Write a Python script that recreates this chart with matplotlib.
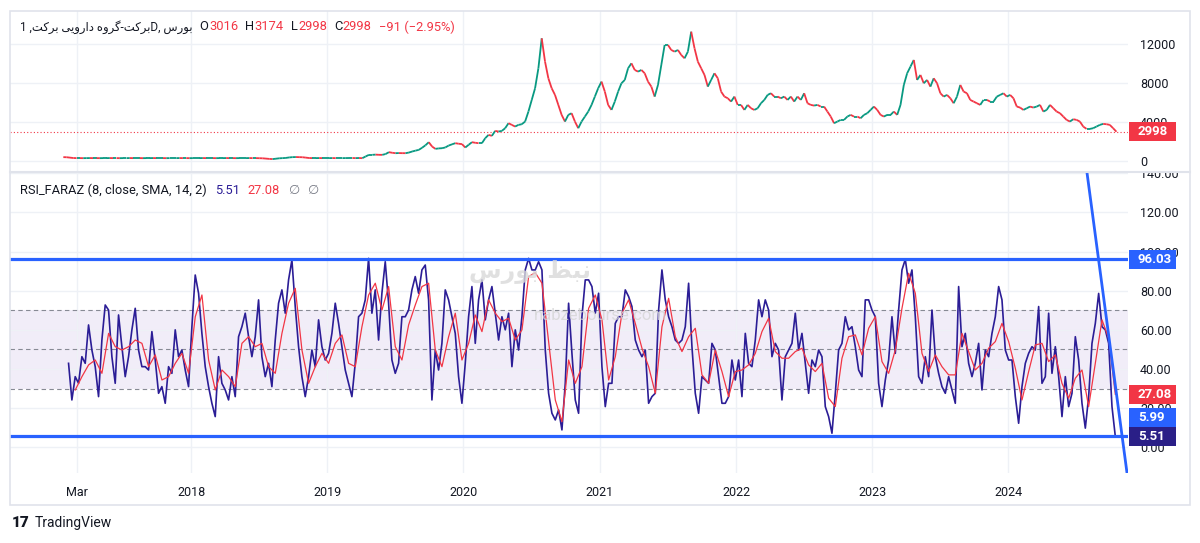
import matplotlib
matplotlib.use('Agg')
import matplotlib.pyplot as plt
import matplotlib.dates as mdates
from matplotlib.collections import LineCollection
from matplotlib.patches import Rectangle
from matplotlib.lines import Line2D
from matplotlib.transforms import IdentityTransform, Bbox, TransformedBbox
import numpy as np
import pandas as pd

plt.rcParams['font.family'] = ['Roboto', 'DejaVu Sans']

## Data
# daily closes (sampled), from late Jan 2017 to mid Oct 2024
price_close = [
    380, 370, 330, 290, 280, 280, 275, 280, 285, 280,
    280, 275, 280, 280, 285, 280, 280, 275, 280, 280,
    285, 280, 280, 280, 275, 280, 280, 285, 280, 280,
    280, 275, 280, 280, 280, 285, 280, 280, 275, 280,
    280, 280, 285, 280, 280, 280, 275, 280, 280, 285,
    280, 280, 275, 280, 280, 280, 285, 280, 280, 270,
    260, 230, 200, 180, 220, 260, 280, 300, 350, 380,
    390, 380, 370, 330, 290, 280, 280, 285, 280, 280,
    280, 285, 280, 280, 280, 285, 290, 290, 280, 290,
    274, 450, 617, 617, 640, 620, 617, 700, 891, 830,
    788, 800, 790, 788, 850, 960, 1050, 1131, 1350, 1600,
    1920, 1474, 1234, 1280, 1300, 1380, 1577, 1700, 1817, 1760,
    1720, 1371, 1650, 1920, 1860, 1817, 1817, 2331, 2674, 2570,
    3085, 3016, 3085, 3359, 3874, 3702, 3531, 3702, 3771, 4045,
    5073, 6273, 7473, 9530, 12615, 10215, 8501, 7473, 6787, 5759,
    4731, 4045, 4731, 4902, 4045, 3359, 4045, 4559, 5073, 5759,
    6616, 7473, 8159, 7130, 5759, 5244, 6102, 7130, 7987, 8330,
    9530, 10044, 9359, 9187, 9359, 9016, 8159, 7644, 6616, 7816,
    9873, 11930, 11930, 11415, 11244, 11415, 10901, 10558, 11244, 13300,
    11587, 10215, 9530, 8844, 7644, 8330, 9016, 8501, 7130, 6616,
    6445, 6102, 6616, 5759,
    5759, 5244, 5759, 5416, 5244, 5416, 5930, 6273, 6787, 6959,
    6616, 6616, 6445, 6616, 6273, 6616, 6102, 6616, 6273, 6959,
    5930, 5759, 5690, 5759, 5588, 5588, 5073, 4559, 3874, 4045,
    4216, 4216, 4559, 4731, 4559, 4559, 4388, 4731, 4902, 5244,
    5588, 5244, 4731, 4559, 4731, 4731, 5073, 4731, 5759, 7816,
    9016, 9701, 10387, 8330, 8844, 7987, 8330, 7644, 8501, 7987,
    6959, 6616, 6787, 6445, 5930, 6616, 7816, 7130, 6959, 6273,
    6102, 5930, 5759, 6273, 6273, 6102, 6102, 6616, 6787, 6959,
    6616, 6787, 6445, 5588, 5485, 5244, 5416, 5588, 5485, 5588,
    5759, 5073, 5244, 5759, 5416, 5073, 4902, 4559, 4216, 4045,
    4285, 4216, 4045, 3531, 3291, 3291, 3359, 3531, 3702, 3805,
    3771, 3702, 3359, 2998,
]
price_start, price_end = '2017-01-23', '2024-10-17'

# RSI(8)
rsi_values = [
    42.9, 24.2, 36.1, 32.7, 46.3, 42.9, 62.5, 49.7, 41.2, 25.9,
    54.8, 72.7, 70.1, 46.3, 32.7, 67.6, 51.4, 36.1, 46.3, 60.0,
    71.0, 49.7, 41.2, 41.2, 39.5, 59.1, 44.6, 27.6, 31.0, 22.5,
    41.2, 37.8, 60.0, 46.3, 49.7, 39.5, 31.0, 61.6, 88.0, 78.7,
    58.2, 41.2, 31.0, 22.5, 15.7, 46.3, 32.7, 29.3, 24.2, 36.1,
    25.9, 56.5, 61.6, 68.5, 56.5, 46.3, 56.5, 75.3, 46.3, 36.1,
    42.9, 31.0, 54.8, 73.6, 80.4, 68.5, 85.5, 95.7, 71.9, 51.4,
    36.1, 25.9, 36.1, 49.7, 41.2, 65.1, 51.4, 44.6, 48.0, 58.2,
    73.6,
    63.3, 51.4, 39.5, 32.7, 25.9, 42.9, 66.7, 68.5, 75.3, 96.5,
    68.5, 80.4, 54.8, 78.7, 94.8, 73.6, 44.6, 37.8, 42.9, 66.7,
    66.7, 70.1, 80.4, 87.2, 78.7, 90.6, 93.1, 75.3, 24.2, 49.7,
    39.5, 53.1, 80.4, 75.3, 66.7, 58.2, 36.1, 22.5, 42.9, 66.7,
    82.1, 53.1, 75.3, 85.5, 65.1, 75.3, 82.1, 68.5, 54.8, 66.7,
    60.0, 68.5, 41.2, 60.0, 49.7, 66.7, 90.6, 96.5, 90.6, 90.6,
    94.8, 90.6, 49.7, 27.6, 17.4, 14.0, 19.1, 8.9, 32.7, 73.6,
    48.0, 24.2, 17.4, 66.7, 85.5, 85.5, 82.1, 68.5, 78.7,
    41.2, 20.8, 32.7, 32.7, 63.3, 66.7, 66.7, 80.4, 77.0, 71.9,
    54.8, 49.7, 46.3, 49.7, 22.5, 25.9, 27.6, 70.1, 90.6, 75.3,
    66.7, 61.6, 54.8, 53.1, 54.8, 61.6, 83.8, 51.4, 27.6, 17.4,
    36.1, 34.4, 32.7, 53.1, 49.7, 36.1, 22.5, 22.5, 25.9, 44.6,
    34.4, 44.6, 25.9, 58.2, 42.9, 41.2, 54.8, 75.3, 66.7, 75.3,
    70.1, 46.3, 53.1, 49.7, 24.2, 46.3, 49.7, 53.1, 68.5, 49.7,
    58.2, 42.9, 27.6, 44.6, 41.2, 49.7, 46.3, 20.8, 15.7, 7.2,
    27.6, 49.7, 53.1, 66.7, 60.0, 61.6, 51.4, 39.5, 36.1, 75.3,
    75.3,
    70.1, 66.7, 32.7, 20.8, 34.4, 44.6, 66.7, 48.0, 70.1, 90.6,
    96.0, 83.8, 90.6, 66.7, 36.1, 32.7, 46.3, 36.1, 70.1, 46.3,
    37.8, 31.0, 27.6, 36.1, 29.3, 22.5, 82.1, 51.4, 58.2, 42.9,
    36.1, 42.9, 53.1, 29.3, 49.7, 46.3, 58.2, 66.7, 82.1, 75.3,
    49.7, 44.6, 44.6, 25.9, 12.3, 31.0, 42.9, 48.0, 51.4, 49.7,
    71.9, 32.7, 36.1, 68.5, 37.8, 51.4, 36.1, 15.7, 36.1, 20.8,
    27.6, 56.5, 44.6, 22.5, 9.8, 25.9, 53.1, 63.3, 78.6, 61.6,
    60.0, 53.1, 20.8, 5.51,
]
rsi_start, rsi_end = '2017-02-06', '2024-10-14'

# SMA(14) of the RSI
sma_values = [
    29.3, 36.1, 42.1, 44.6, 37.8, 58.2, 51.4, 49.7, 51.4, 54.8,
    53.1, 41.2, 47.2, 34.4, 36.1, 42.9, 48.0, 37.8, 66.7, 77.8,
    44.6, 29.3, 39.5, 36.1, 31.0, 53.1, 56.5, 51.4, 53.1, 41.2,
    37.8, 58.2, 73.6, 81.2, 49.7, 32.7, 41.2, 48.0, 42.9, 53.1,
    57.4, 42.9, 41.2, 61.6, 77.8, 83.8, 70.1, 82.1, 51.4, 44.6,
    62.5, 72.7, 82.1, 83.8, 49.7, 41.2, 56.5, 68.5, 44.6, 53.1,
    67.6, 59.1, 75.3, 68.5, 64.2, 65.9, 54.8, 60.0, 87.2, 89.2,
    83.8, 54.0, 24.2, 13.1, 44.6, 32.7, 41.2, 71.0, 77.8,
    65.1, 34.4, 46.3, 68.5, 75.3, 63.3, 50.6, 41.2, 27.6, 61.6,
    76.1, 56.5, 48.9, 56.5, 60.8, 37.0, 32.7, 49.7, 38.7, 25.9,
    38.7, 39.5, 42.1, 48.0, 59.1, 65.9, 48.9, 45.5, 45.5, 48.9,
    50.6, 42.1, 38.7, 42.9, 25.1, 20.8, 45.5, 56.5, 57.4, 47.2,
    60.8,
    66.7, 43.8, 37.8, 49.7, 71.0, 88.9, 78.7, 48.0, 38.7, 47.2,
    41.2, 37.0, 37.0, 58.2, 48.9, 39.5, 42.9, 50.6, 54.0, 63.3,
    54.0, 40.4, 24.2, 38.7, 52.3, 53.1, 43.8, 47.2, 32.7, 25.1,
    35.3, 39.5, 20.8, 42.9, 65.1, 55.7, 27.08,
]
sma_start, sma_end = '2017-02-24', '2024-10-14'

# drawn levels and trend line
hline_levels = [96.03, 5.99]
trend_dates = ['2024-08-30', '2024-11-01']
trend_values = [96.03, 5.99]

band_levels = [30, 50, 70]
rsi_ticks = [0, 20, 40, 60, 80, 100, 120, 140]
price_ticks = [0, 4000, 8000, 12000]
x_tick_dates = ['2017-03-01', '2018-01-01', '2019-01-01', '2020-01-01',
                '2021-01-01', '2022-01-01', '2023-01-01', '2024-01-01']
x_tick_labels = ['Mar', '2018', '2019', '2020', '2021', '2022', '2023', '2024']

ohlc_names = ['O', 'H', 'L', 'C']
ohlc_values = ['3016', '3174', '2998', '2998']
change_text = '\u221291 (\u22122.95%)'

# Persian title in visual order (presentation forms, since matplotlib does no shaping)
w_barkat = '\uFE96\uFB90\uFEAE\uFE91'
w_daruyi = '\uFBFD\uFBFE\uFEED\uFEAD\uFE8D\uFEA9'
w_gorooh = '\uFEE9\uFEED\uFEAE\uFB94'
w_bourse = '\uFEB1\uFEAD\uFEEE\uFE91'
w_nabz = '\uFEC6\uFE92\uFEE7'
title_visual = '1 ,' + w_barkat + ' ' + w_daruyi + ' ' + w_gorooh + '-' + w_barkat + 'D, ' + w_bourse

## Colours
UP = '#089981'
DOWN = '#f23645'
RSI_C = '#2b1d96'
LINE_BLUE = '#2962ff'
GRID = '#eef1f6'
TXT = '#131722'
BORDER = '#e0e3eb'

W, H = 1200, 543
fig = plt.figure(figsize=(W / 100, H / 100), dpi=100)
fig.patch.set_facecolor('white')


def fx(x):
    return x / W


def fy(y):
    return 1 - y / H


ax_price = fig.add_axes([fx(10), fy(172), fx(1118), 161 / H])
ax_rsi = fig.add_axes([fx(10), fy(473), fx(1118), 301 / H], sharex=ax_price)

rsi_dates = pd.date_range(rsi_start, rsi_end, periods=len(rsi_values))
sma_dates = pd.date_range(sma_start, sma_end, periods=len(sma_values))
price_dates = pd.date_range(price_start, price_end, periods=len(price_close))

## RSI pane
ax_rsi.axhspan(band_levels[0], band_levels[-1], color='#7e57c2', alpha=0.1, lw=0, zorder=0)
for lvl in band_levels:
    ax_rsi.axhline(lvl, color='#878a94', lw=0.8, dashes=(4, 3), zorder=1)
ax_rsi.plot(rsi_dates, rsi_values, color=RSI_C, lw=1.2, zorder=3)
ax_rsi.plot(sma_dates, sma_values, color=DOWN, lw=0.9, zorder=4)
for lvl in hline_levels:
    ax_rsi.axhline(lvl, color=LINE_BLUE, lw=2.3, zorder=5)
t0 = mdates.date2num(pd.Timestamp(trend_dates[0]))
t1 = mdates.date2num(pd.Timestamp(trend_dates[1]))
ax_rsi.axline((t0, trend_values[0]), (t1, trend_values[1]), color=LINE_BLUE, lw=2.0, zorder=5)

ax_rsi.set_ylim(-13.1, 140.6)
ax_rsi.set_yticks(rsi_ticks)
ax_rsi.set_yticklabels(['%.2f' % v for v in rsi_ticks])

## Price pane: each bar from previous close to close
xs = mdates.date2num(price_dates)
segs = [[(xs[i - 1], price_close[i - 1]), (xs[i], price_close[i])] for i in range(1, len(xs))]
cols = [UP if price_close[i] >= price_close[i - 1] else DOWN for i in range(1, len(xs))]
ax_price.add_collection(LineCollection(segs, colors=cols, linewidths=1.3, zorder=3))
ax_price.axhline(price_close[-1], color=DOWN, lw=0.8, ls=(0, (1, 2)), zorder=2)
ax_price.set_ylim(-1150, 15430)
ax_price.set_yticks(price_ticks)
ax_price.set_yticklabels([str(v) for v in price_ticks])

ax_price.set_xlim(pd.Timestamp('2016-09-02'), pd.Timestamp('2024-11-17'))
ax_rsi.set_xticks([pd.Timestamp(d) for d in x_tick_dates])
ax_rsi.set_xticklabels(x_tick_labels)

for ax in (ax_price, ax_rsi):
    for s in ax.spines.values():
        s.set_visible(False)
    ax.yaxis.tick_right()
    ax.tick_params(axis='y', length=0, pad=8.6, labelsize=9, labelcolor=TXT)
    ax.tick_params(axis='x', length=0, labelsize=9, labelcolor=TXT, pad=9)
    ax.grid(True, color=GRID, lw=1, zorder=0)
    ax.set_axisbelow(True)
ax_price.tick_params(axis='x', labelbottom=False)

# cut tick labels at the pane edges like the platform does
clip_rsi = TransformedBbox(Bbox([[0, H - 500], [W, H - 172]]), IdentityTransform())
for t in ax_rsi.yaxis.get_major_ticks():
    t.label2.set_clip_box(clip_rsi)
    t.label2.set_clip_on(True)

## Frame and pane separator
fig.add_artist(Rectangle((fx(10), fy(505)), fx(1180), (505 - 11) / H, transform=fig.transFigure,
                         fill=False, ec=BORDER, lw=1.2))
fig.add_artist(Line2D([fx(10), fx(1190)], [fy(172), fy(172)], transform=fig.transFigure,
                      color=BORDER, lw=1.5))


## Value tags on the scale
def add_tag(ax, value, text, color, shift=0):
    ypix = ax.transData.transform((0, value))[1] + shift
    fig.add_artist(Rectangle((1129, ypix - 9.5), 47, 19, transform=IdentityTransform(),
                             fc=color, ec='none', zorder=20))
    fig.text(1138, ypix, text, transform=IdentityTransform(), color='white', fontsize=9.5,
             weight='bold', va='center', ha='left', zorder=21)


add_tag(ax_price, price_close[-1], '2998', DOWN)
add_tag(ax_rsi, hline_levels[0], '96.03', LINE_BLUE)
add_tag(ax_rsi, sma_values[-1], '27.08', DOWN)
add_tag(ax_rsi, rsi_values[-1], '5.99', LINE_BLUE, shift=19)
add_tag(ax_rsi, rsi_values[-1], '5.51', '#2a1f87')


## Legends: pieces placed one after another
renderer = fig.canvas.get_renderer()


def legend_row(x, y, parts, fs=9.3):
    ypix = H - y
    for s, color, gap, fam, size in parts:
        x += gap
        kw = {'family': fam} if fam else {}
        t = fig.text(x, ypix, s, transform=IdentityTransform(), color=color,
                     fontsize=size or fs, va='center', ha='left', **kw)
        x = t.get_window_extent(renderer).x1


price_parts = [(title_visual, TXT, 0, None, 8.4)]
for name, val in zip(ohlc_names, ohlc_values):
    price_parts.append((name, TXT, 7, None, None))
    price_parts.append((val, DOWN, 0.5, None, None))
price_parts.append((change_text, DOWN, 7, None, None))
legend_row(20, 27, price_parts)

rsi_parts = [('RSI_FARAZ (8, close, SMA, 14, 2)', TXT, 0, None, None),
             ('5.51', RSI_C, 8, None, None),
             ('27.08', DOWN, 8, None, None),
             ('\u2205', '#787b86', 8, ['DejaVu Sans'], None),
             ('\u2205', '#787b86', 8, ['DejaVu Sans'], None)]
legend_row(20, 190, rsi_parts)

## Watermark
fig.text(fx(530), fy(272), w_bourse + ' ' + w_nabz, color='#d9d9d9', fontsize=17,
         weight='bold', ha='center', va='center', zorder=0, alpha=0.8, family=['DejaVu Sans'])
fig.text(fx(600), fy(316), 'nabzebourse.com', color='#d5d5d5', fontsize=12,
         ha='center', va='center', zorder=0, alpha=0.8)

## Footer logo
fig.text(fx(12), fy(523), '17', color=TXT, fontsize=11, weight='heavy', va='center')
fig.text(fx(35), fy(523), 'TradingView', color=TXT, fontsize=10, va='center')

fig.savefig('out.png', dpi=100, facecolor='white')
